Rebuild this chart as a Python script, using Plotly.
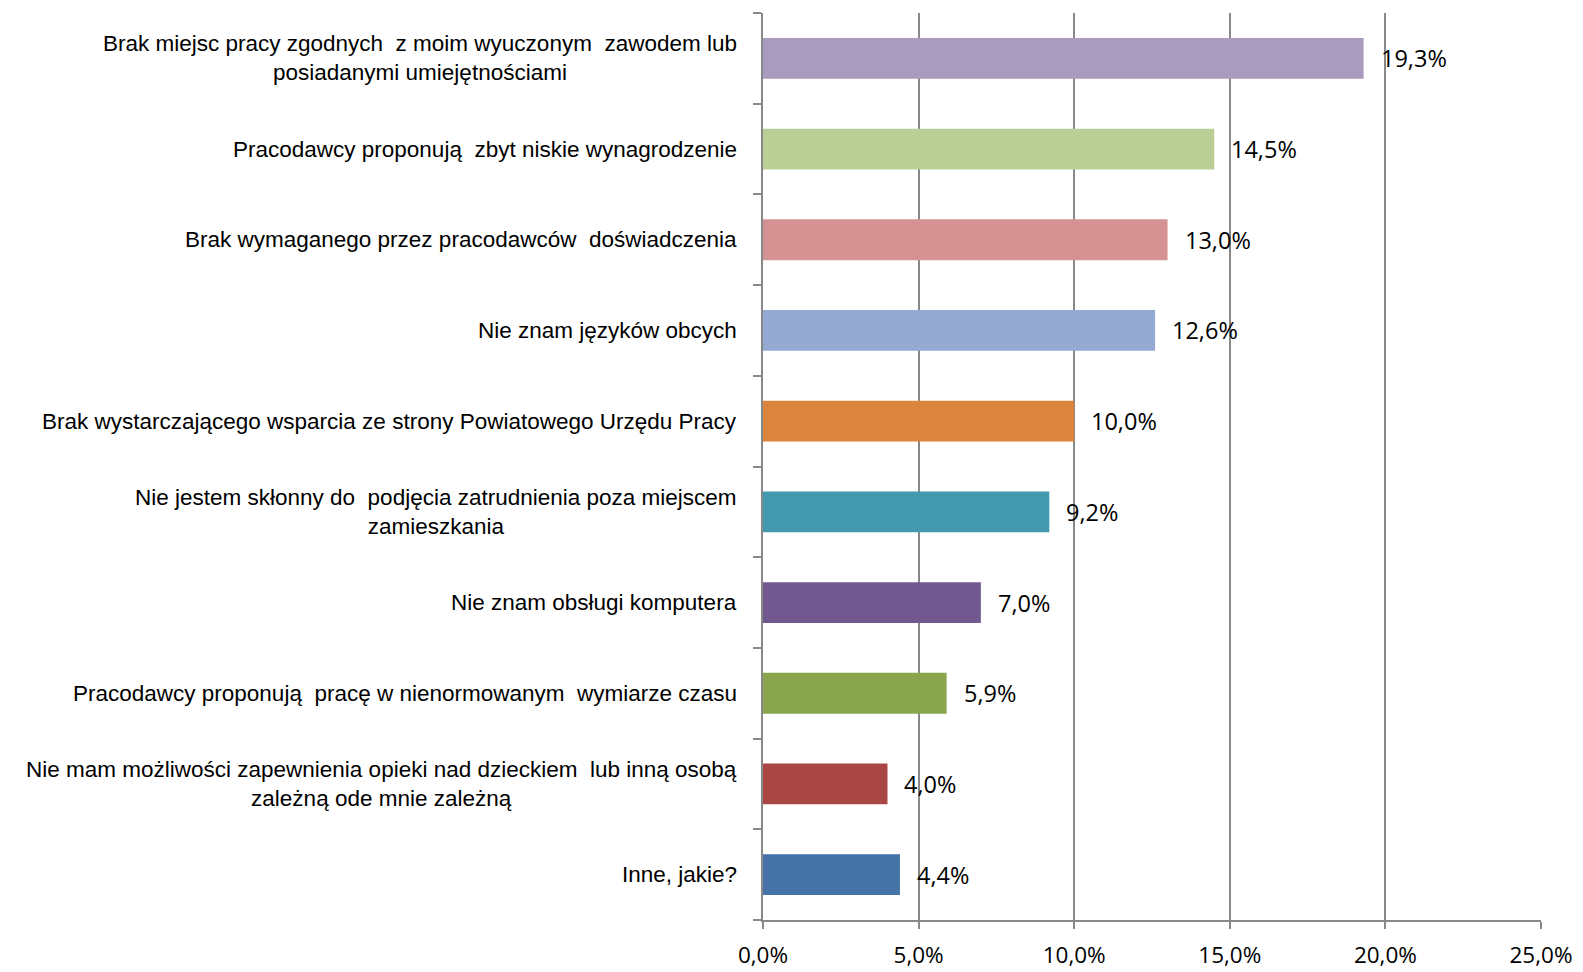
import plotly.graph_objects as go

categories = [
    "Brak miejsc pracy zgodnych  z moim wyuczonym  zawodem lub<br>posiadanymi umiejętnościami",
    "Pracodawcy proponują  zbyt niskie wynagrodzenie",
    "Brak wymaganego przez pracodawców  doświadczenia",
    "Nie znam języków obcych",
    "Brak wystarczającego wsparcia ze strony Powiatowego Urzędu Pracy",
    "Nie jestem skłonny do  podjęcia zatrudnienia poza miejscem<br>zamieszkania",
    "Nie znam obsługi komputera",
    "Pracodawcy proponują  pracę w nienormowanym  wymiarze czasu",
    "Nie mam możliwości zapewnienia opieki nad dzieckiem  lub inną osobą<br>zależną ode mnie zależną",
    "Inne, jakie?",
]
values = [19.3, 14.5, 13.0, 12.6, 10.0, 9.2, 7.0, 5.9, 4.0, 4.4]
value_labels = ["19,3%", "14,5%", "13,0%", "12,6%", "10,0%", "9,2%", "7,0%", "5,9%", "4,0%", "4,4%"]
colors = ["#A99BBD", "#B9CF96", "#D49392", "#95AAD3", "#DB843D",
          "#4198AF", "#71588F", "#89A54E", "#AA4643", "#4572A7"]
tick_vals = [0, 5, 10, 15, 20, 25]
tick_text = ["0,0%", "5,0%", "10,0%", "15,0%", "20,0%", "25,0%"]

ids = list(range(len(categories)))

fig = go.Figure()
fig.add_trace(go.Bar(
    y=ids, x=values, orientation="h",
    marker=dict(color=colors, line=dict(width=0)),
    hoverinfo="skip",
))

annotations = []
for i, (v, t) in enumerate(zip(values, value_labels)):
    annotations.append(dict(x=v, y=i, xref="x", yref="y", text=t, showarrow=False,
                            xanchor="left", yanchor="middle", xshift=15,
                            font=dict(family="Open Sans, DejaVu Sans", size=23.5, color="#000000")))
for i, c in enumerate(categories):
    annotations.append(dict(x=0, y=i, xref="paper", yref="y", text=c, showarrow=False,
                            xanchor="right", yanchor="middle", align="center", xshift=-24,
                            font=dict(family="Liberation Sans, Arial, sans-serif", size=22.5, color="#000000")))

fig.update_layout(
    width=1583, height=972,
    margin=dict(l=763, r=42, t=13, b=52),
    paper_bgcolor="white", plot_bgcolor="white",
    showlegend=False,
    bargap=0.55,
    annotations=annotations,
    xaxis=dict(range=[0, 25], tickvals=tick_vals, ticktext=tick_text,
               showgrid=True, gridcolor="#888888", gridwidth=1.5,
               showline=True, linecolor="#888888", linewidth=1.5,
               ticks="outside", ticklen=7, tickcolor="#888888", tickwidth=1.5,
               ticklabelstandoff=7,
               zeroline=False, mirror=False, automargin=False,
               tickfont=dict(family="Open Sans, DejaVu Sans", size=22.5, color="#000000")),
    yaxis=dict(range=[len(categories) - 0.5, -0.5],
               tickvals=[i + 0.5 for i in ids[:-1]] + [-0.5, len(categories) - 0.5],
               ticktext=[""] * (len(categories) + 1),
               showgrid=False, showline=True, linecolor="#888888", linewidth=1.5,
               ticks="outside", ticklen=8, tickcolor="#888888", tickwidth=1.5,
               zeroline=False, automargin=False),
)

fig.write_html("out.html", config={"displayModeBar": False},
               post_script="document.body.style.margin='0';document.body.style.overflow='hidden';")
